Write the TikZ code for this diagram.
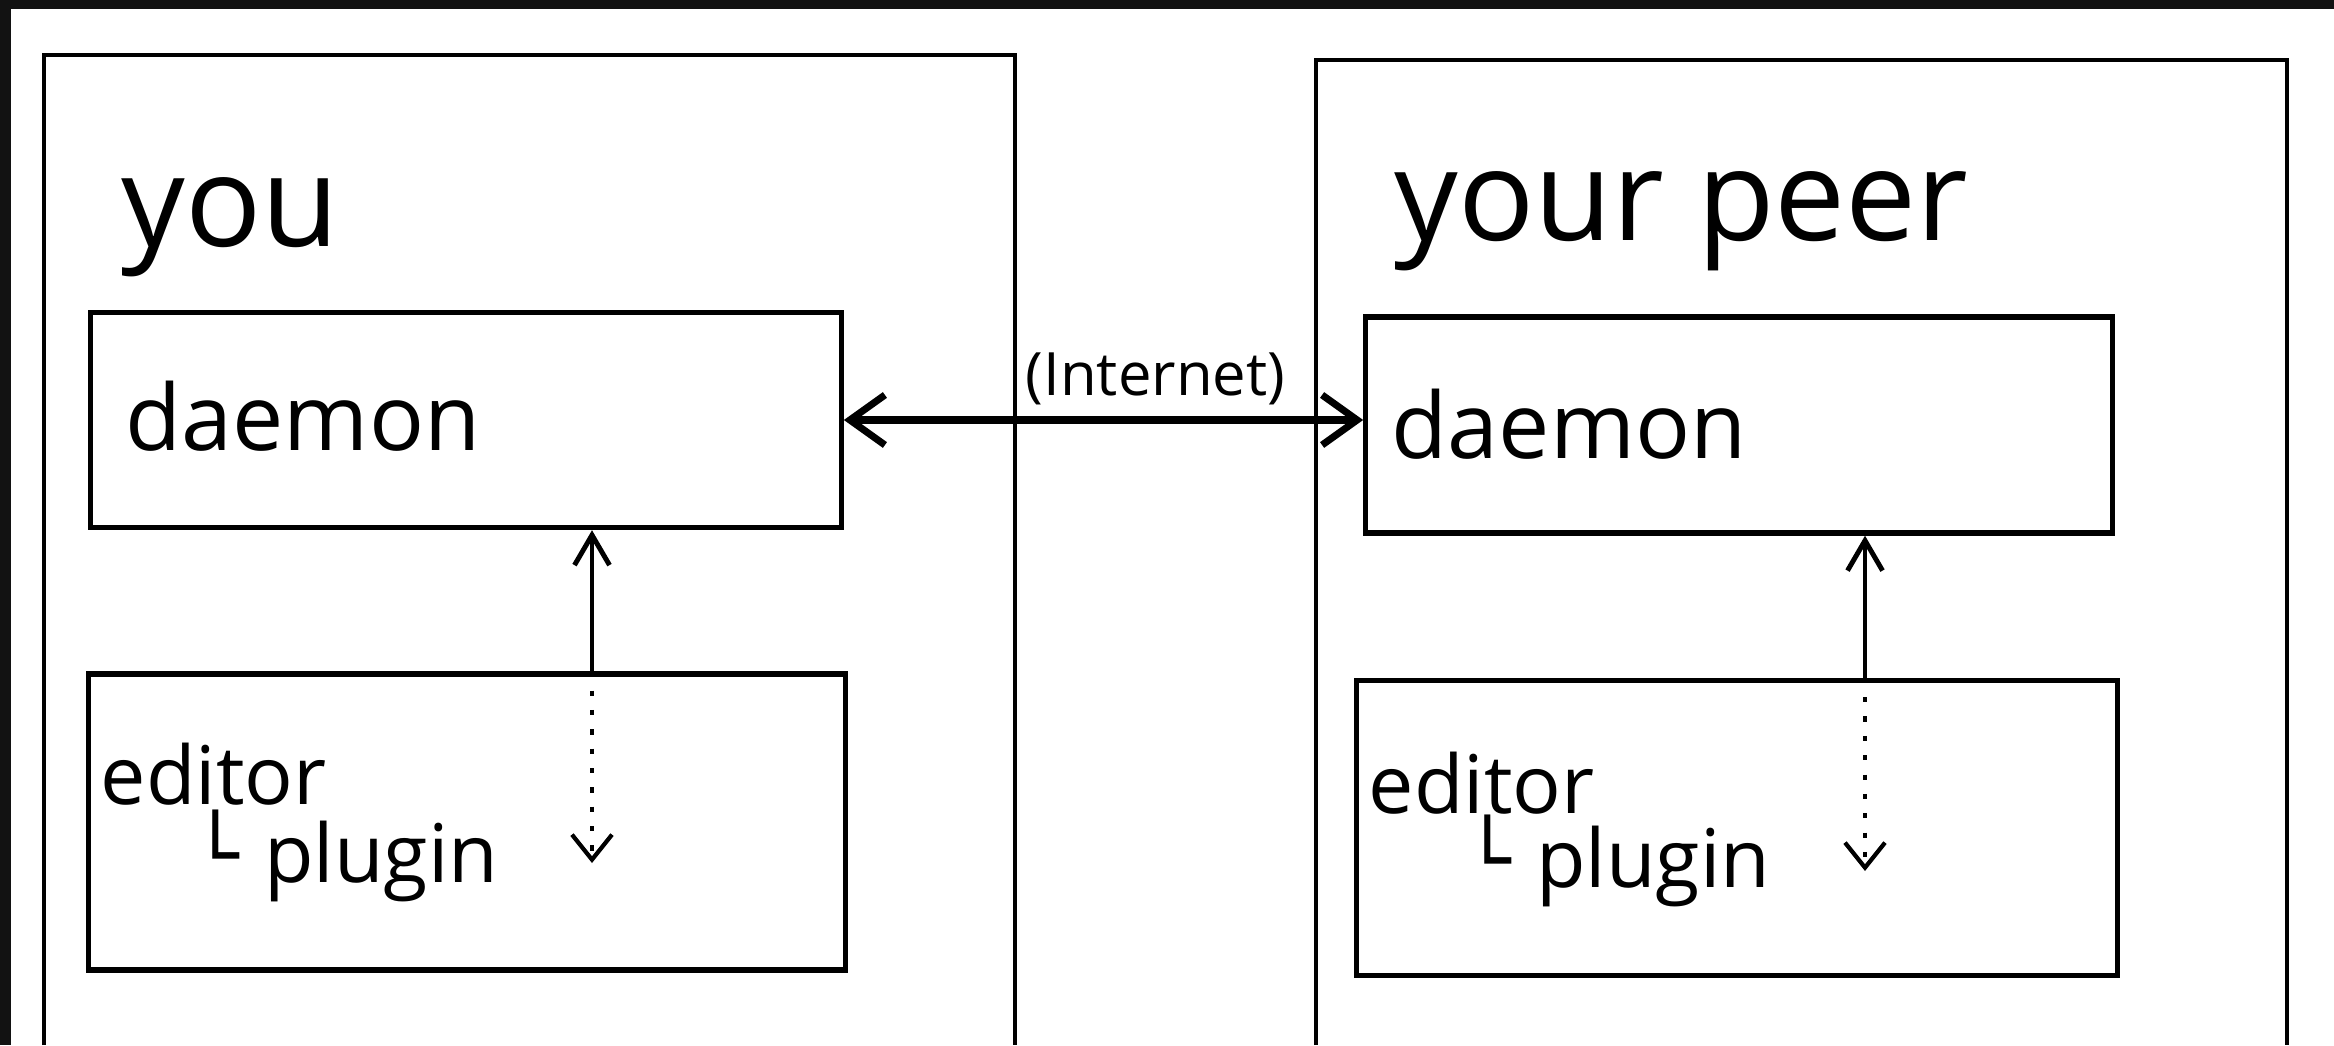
\documentclass[tikz,border=0pt]{standalone}
\usepackage{fontspec}
\setmainfont{Open Sans}
\newfontfamily\symfont{DejaVu Sans}
\usetikzlibrary{arrows.meta, positioning, calc}

\begin{document}
\begin{tikzpicture}[x=0.01cm, y=-0.01cm, line width=1.5pt,
    box/.style={draw, minimum width=7.5cm, inner sep=0pt},
    big/.style={font=\fontsize{36}{40}\selectfont, anchor=base west, inner sep=0pt},
    txt/.style={font=\fontsize{26}{30}\selectfont, anchor=base west, inner sep=0pt},
    small/.style={font=\fontsize{23}{27}\selectfont, anchor=base west, inner sep=0pt},
    link/.style={{Straight Barb[length=3.5mm, width=5mm]}-{Straight Barb[length=3.5mm, width=5mm]}, line width=2pt},
    up/.style={-{Straight Barb[length=3mm, width=3.5mm]}, line width=1.4pt},
    down/.style={-{Straight Barb[length=2.5mm, width=4mm]}, line width=1.2pt, dash pattern=on 1.5pt off 4pt}]

        % dark frame round the sheet
        \fill[black!93] (0,0) rectangle (2334,1045);
        \fill[white] (11,9) rectangle (2334,1045);
        \useasboundingbox (0,0) rectangle (2334,1045);

        % the two machines, open at the bottom
        \draw[line width=1.3pt] (44,1045) -- (44,55) -- (1015,55) -- (1015,1045);
        \draw[line width=1.3pt] (1316,1045) -- (1316,60) -- (2287,60) -- (2287,1045);

        \node[big] (you) at (119,246) {you};
        \node[big] (peer) at (1392,240) {your peer};

        \node[box, minimum height=2.15cm] (dL) at (466,420) {};
        \node[box, minimum width=7.56cm, minimum height=2.96cm] (eL) at (467,822) {};
        \node[box, minimum width=7.46cm, minimum height=2.16cm] (dR) at (1739,425) {};
        \node[box, minimum width=7.6cm, minimum height=2.95cm] (eR) at (1737,828) {};

        \node[txt] (dLtxt) at ([shift={(0.35cm,-1.41cm)}]dL.north west) {daemon};
        \node[txt] (dRtxt) at ([shift={(0.26cm,-1.44cm)}]dR.north west) {daemon};
        \node[small] (eLtxt) at ([shift={(0.12cm,-1.33cm)}]eL.north west) {editor};
        \node[small] (eRtxt) at ([shift={(0.12cm,-1.36cm)}]eR.north west) {editor};
        \node[small] (pLtxt) at ([shift={(1.04cm,-2.11cm)}]eL.north west) {{\symfont\fontsize{22}{24}\selectfont └}\hspace{7pt}plugin};
        \node[small] (pRtxt) at ([shift={(1.08cm,-2.10cm)}]eR.north west) {{\symfont\fontsize{22}{24}\selectfont └}\hspace{7pt}plugin};

        \draw[link] (dL.east) -- (dL.east -| dR.west) node[pos=0.6, above, font=\fontsize{17}{20}\selectfont] (net) {(Internet)};

        \coordinate (tL) at (592,863);
        \coordinate (tR) at (1865,871);
        \draw[up] (eL.north -| tL) -- (dL.south -| tL);
        \draw[down] (eL.north -| tL) -- (tL);
        \draw[up] (eR.north -| tR) -- (dR.south -| tR);
        \draw[down] (eR.north -| tR) -- (tR);
    \end{tikzpicture}
\end{document}
